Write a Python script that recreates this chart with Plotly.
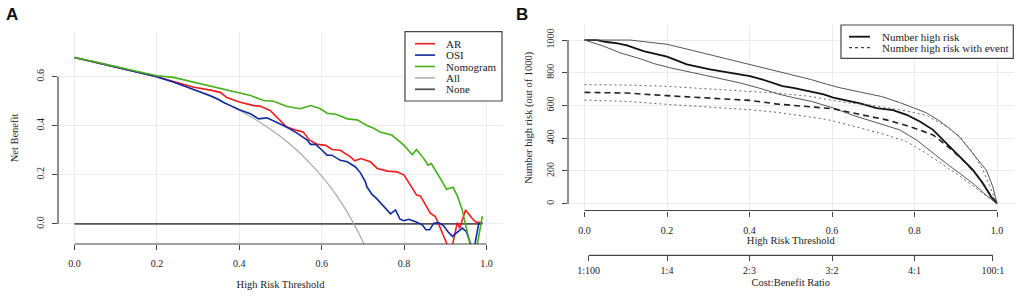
import plotly.graph_objects as go

W, H = 1021, 297

# ---------------- Panel A: decision curves ----------------
ar_t = [0, 0.05, 0.1, 0.15, 0.2, 0.24, 0.29, 0.33, 0.354, 0.37, 0.40, 0.435, 0.45, 0.475, 0.49,
        0.515, 0.54, 0.555, 0.57, 0.59, 0.61, 0.625, 0.645, 0.67, 0.68, 0.695, 0.718, 0.735, 0.76,
        0.783, 0.80, 0.815, 0.83, 0.84, 0.856, 0.864, 0.876, 0.892, 0.906, 0.917, 0.929, 0.935,
        0.949, 0.965, 0.973, 0.99]
ar_nb = [0.678, 0.659, 0.639, 0.620, 0.600, 0.580, 0.557, 0.545, 0.536, 0.515, 0.497, 0.482, 0.480,
         0.462, 0.437, 0.395, 0.381, 0.375, 0.342, 0.324, 0.320, 0.303, 0.300, 0.273, 0.257, 0.266,
         0.253, 0.226, 0.215, 0.212, 0.199, 0.158, 0.118, 0.113, 0.064, 0.043, 0.030, -0.031, -0.09,
         -0.09, 0.005, -0.017, 0.057, 0.023, 0.009, 0.003]

osi_t = [0, 0.05, 0.1, 0.15, 0.2, 0.24, 0.29, 0.33, 0.35, 0.362, 0.38, 0.40, 0.427, 0.447, 0.467,
         0.492, 0.516, 0.54, 0.565, 0.573, 0.585, 0.601, 0.613, 0.625, 0.645, 0.662, 0.682, 0.694,
         0.706, 0.71, 0.722, 0.733, 0.751, 0.767, 0.779, 0.79, 0.80, 0.811, 0.828, 0.844, 0.853,
         0.862, 0.872, 0.884, 0.896, 0.906, 0.917, 0.929, 0.941, 0.951, 0.963, 0.971, 0.981, 0.99]
osi_nb = [0.678, 0.659, 0.639, 0.620, 0.600, 0.578, 0.548, 0.522, 0.507, 0.495, 0.481, 0.465, 0.449,
          0.428, 0.432, 0.411, 0.394, 0.370, 0.341, 0.324, 0.324, 0.300, 0.280, 0.280, 0.259, 0.253,
          0.232, 0.208, 0.171, 0.150, 0.120, 0.104, 0.070, 0.041, 0.057, 0.019, 0.013, 0.019, 0.009,
          -0.004, -0.024, -0.024, 0.003, 0.005, -0.008, -0.031, -0.051, -0.035, -0.017, -0.031,
          -0.09, -0.09, 0.0, 0.003]

nomo_t = [0, 0.05, 0.1, 0.15, 0.2, 0.24, 0.29, 0.33, 0.354, 0.40, 0.427, 0.459, 0.483, 0.516, 0.548,
          0.573, 0.597, 0.613, 0.637, 0.662, 0.686, 0.71, 0.726, 0.742, 0.771, 0.80, 0.82, 0.83,
          0.848, 0.858, 0.866, 0.888, 0.903, 0.919, 0.93, 0.941, 0.951, 0.961, 0.977, 0.99]
nomo_nb = [0.678, 0.660, 0.640, 0.622, 0.604, 0.597, 0.577, 0.562, 0.550, 0.533, 0.523, 0.503, 0.500,
           0.478, 0.469, 0.482, 0.469, 0.451, 0.446, 0.428, 0.424, 0.401, 0.390, 0.374, 0.361, 0.320,
           0.282, 0.303, 0.266, 0.239, 0.246, 0.185, 0.141, 0.149, 0.111, 0.057, -0.011, -0.09, -0.09,
           0.032]

all_t = [0, 0.05, 0.1, 0.15, 0.2, 0.25, 0.3, 0.35, 0.4, 0.45, 0.5, 0.54, 0.58, 0.6, 0.62, 0.64,
         0.66, 0.68, 0.70, 0.72]
all_nb = [0.678, 0.661, 0.642, 0.621, 0.598, 0.571, 0.540, 0.505, 0.463, 0.414, 0.356, 0.300, 0.232,
          0.195, 0.153, 0.106, 0.053, -0.006, -0.073, -0.150]

none_t = [0, 0.99]
none_nb = [0, 0]

a_xticks = [0, 0.2, 0.4, 0.6, 0.8, 1.0]
a_xlabels = ["0.0", "0.2", "0.4", "0.6", "0.8", "1.0"]
a_yticks = [0, 0.2, 0.4, 0.6]
a_ylabels = ["0.0", "0.2", "0.4", "0.6"]

# ---------------- Panel B: clinical impact curve ----------------
hr_t = [0, 0.03, 0.054, 0.08, 0.103, 0.143, 0.2, 0.22, 0.248, 0.304, 0.361, 0.401, 0.43, 0.458,
        0.48, 0.506, 0.55, 0.58, 0.603, 0.64, 0.668, 0.708, 0.748, 0.781, 0.813, 0.845, 0.877,
        0.91, 0.942, 0.966, 0.986, 1.0]
hr_n = [1000, 1000, 988, 980, 967, 932, 898, 880, 851, 820, 795, 779, 760, 735, 718, 707, 686, 668,
        648, 628, 613, 584, 572, 543, 502, 451, 369, 287, 205, 123, 41, 0]

hr_hi_t = [0, 0.111, 0.151, 0.2, 0.264, 0.321, 0.377, 0.425, 0.47, 0.506, 0.55, 0.587, 0.62, 0.668,
           0.72, 0.764, 0.80, 0.829, 0.861, 0.885, 0.91, 0.942, 0.974, 0.99, 1.0]
hr_hi_n = [1000, 1000, 988, 974, 935, 900, 868, 836, 808, 785, 758, 730, 708, 682, 655, 618, 585,
           555, 505, 460, 405, 307, 205, 102, 0]

hr_lo_t = [0, 0.046, 0.086, 0.135, 0.167, 0.208, 0.264, 0.321, 0.377, 0.425, 0.47, 0.506, 0.55,
           0.603, 0.651, 0.708, 0.764, 0.805, 0.845, 0.877, 0.91, 0.942, 0.974, 1.0]
hr_lo_n = [1000, 963, 922, 886, 857, 830, 800, 769, 738, 705, 670, 648, 625, 585, 540, 495, 451,
           389, 307, 246, 184, 123, 51, 0]

ev_t = [0, 0.103, 0.2, 0.304, 0.401, 0.47, 0.506, 0.603, 0.668, 0.732, 0.789, 0.845, 0.885, 0.926,
        0.958, 0.982, 1.0]
ev_n = [680, 676, 660, 646, 631, 608, 600, 580, 545, 512, 471, 420, 340, 246, 154, 61, 0]

ev_hi_t = [0, 0.1, 0.2, 0.304, 0.401, 0.47, 0.546, 0.627, 0.692, 0.764, 0.829, 0.877, 0.91, 0.942,
           0.966, 0.986, 1.0]
ev_hi_n = [727, 725, 717, 701, 688, 675, 656, 620, 603, 574, 540, 471, 410, 310, 205, 82, 0]

ev_lo_t = [0, 0.1, 0.2, 0.304, 0.401, 0.47, 0.506, 0.587, 0.668, 0.732, 0.781, 0.829, 0.877, 0.918,
           0.95, 0.982, 1.0]
ev_lo_n = [633, 625, 607, 591, 574, 557, 545, 515, 463, 420, 379, 307, 225, 154, 92, 31, 0]

b_xticks = [0, 0.2, 0.4, 0.6, 0.8, 1.0]
b_xlabels = ["0.0", "0.2", "0.4", "0.6", "0.8", "1.0"]
b_yticks = [0, 200, 400, 600, 800, 1000]
b_ylabels = ["0", "200", "400", "600", "800", "1000"]
cb_pos = [0.01, 0.2, 0.4, 0.6, 0.8, 0.99]
cb_labels = ["1:100", "1:4", "2:3", "3:2", "4:1", "100:1"]

# ---------------- styling ----------------
SERIF = "Liberation Serif, Times New Roman, DejaVu Serif, serif"
TXT = "#222222"
AXC = "#444444"
GRID = "#ebebeb"

series_A = [
    ("AR", ar_t, ar_nb, "#ee1c1c", 1.6),
    ("OSI", osi_t, osi_nb, "#0f2a9e", 1.6),
    ("Nomogram", nomo_t, nomo_nb, "#45b01c", 1.6),
    ("All", all_t, all_nb, "#aaaaaa", 1.2),
    ("None", none_t, none_nb, "#555555", 1.8),
]

fig = go.Figure()

# draw None and All first so model curves sit above them
for name, xs, ys, col, lw in [series_A[4], series_A[3], series_A[0], series_A[1], series_A[2]]:
    fig.add_trace(go.Scatter(x=xs, y=ys, mode="lines", name=name, showlegend=False,
                             line=dict(color=col, width=lw,
                                       shape="spline" if name == "All" else "linear"),
                             xaxis="x", yaxis="y"))

series_B = [
    ("Number high risk", hr_t, hr_n, "#111111", 1.8, "solid"),
    ("upper", hr_hi_t, hr_hi_n, "#555555", 1.0, "solid"),
    ("lower", hr_lo_t, hr_lo_n, "#555555", 1.0, "solid"),
    ("Number high risk with event", ev_t, ev_n, "#222222", 1.6, "6px,4px"),
    ("upper ev", ev_hi_t, ev_hi_n, "#666666", 1.0, "2px,3px"),
    ("lower ev", ev_lo_t, ev_lo_n, "#666666", 1.0, "2px,3px"),
]
for name, xs, ys, col, lw, dash in series_B:
    fig.add_trace(go.Scatter(x=xs, y=ys, mode="lines", name=name, showlegend=False,
                             line=dict(color=col, width=lw, dash=dash),
                             xaxis="x2", yaxis="y2"))

# carrier for the cost:benefit axis
fig.add_trace(go.Scatter(x=cb_pos, y=[0] * len(cb_pos), mode="markers", showlegend=False,
                         marker=dict(opacity=0), hoverinfo="skip", xaxis="x3", yaxis="y2"))

tickfont = dict(family=SERIF, size=10, color=TXT)
titlefont = dict(family=SERIF, size=10.5, color=TXT)

common_x = dict(range=[-0.04, 1.04], showline=False, zeroline=False, showgrid=True, gridcolor=GRID,
                gridwidth=1, ticks="outside", ticklen=5, tickcolor=AXC, tickwidth=1,
                tickfont=tickfont, title_font=titlefont, automargin=False)
common_y = dict(showline=False, zeroline=False, showgrid=True, gridcolor=GRID, gridwidth=1,
                ticks="outside", ticklen=5, tickcolor=AXC, tickwidth=1, tickangle=-90,
                tickfont=tickfont, title_font=titlefont, automargin=False)

fig.update_layout(
    width=W, height=H, margin=dict(l=0, r=0, t=0, b=0, pad=0, autoexpand=False),
    paper_bgcolor="white", plot_bgcolor="white",
    xaxis=dict(common_x, domain=[58 / W, 503 / W], anchor="y",
               tickmode="array", tickvals=a_xticks, ticktext=a_xlabels,
               title=dict(text="High Risk Threshold", standoff=12), ticklabelstandoff=5),
    yaxis=dict(common_y, domain=[1 - 244 / H, 1 - 32 / H], anchor="x", range=[-0.082, 0.782],
               tickmode="array", tickvals=a_yticks, ticktext=a_ylabels,
               title=dict(text="Net Benefit", standoff=14), ticklabelstandoff=4),
    xaxis2=dict(common_x, domain=[568 / W, 1013.5 / W], anchor="y2",
                tickmode="array", tickvals=b_xticks, ticktext=b_xlabels,
                title=dict(text="High Risk Threshold", standoff=2), ticklabelstandoff=5),
    yaxis2=dict(common_y, domain=[1 - 210.5 / H, 1 - 25 / H], anchor="x2", range=[-42, 1092],
                tickmode="array", tickvals=b_yticks, ticktext=b_ylabels,
                title=dict(text="Number high risk (out of 1000)", standoff=10), ticklabelstandoff=4),
    xaxis3=dict(range=[-0.04, 1.04], overlaying="x2", anchor="free", position=1 - 255.3 / H,
                side="bottom", showgrid=False, zeroline=False, showline=False, automargin=False,
                ticks="outside", ticklen=5, tickcolor=AXC, tickwidth=1, tickfont=tickfont,
                tickmode="array", tickvals=cb_pos, ticktext=cb_labels,
                title=dict(text="Cost:Benefit Ratio", font=titlefont, standoff=3),
                ticklabelstandoff=1),
)

shapes = []
# R-style axis lines spanning first..last tick
shapes.append(dict(type="line", xref="x", yref="y domain", x0=a_xticks[0], x1=a_xticks[-1],
                   y0=0, y1=0, line=dict(color=AXC, width=1.2)))
shapes.append(dict(type="line", xref="x domain", yref="y", x0=0, x1=0, y0=a_yticks[0],
                   y1=a_yticks[-1], line=dict(color=AXC, width=1.2)))
shapes.append(dict(type="line", xref="x2", yref="y2 domain", x0=b_xticks[0], x1=b_xticks[-1],
                   y0=0, y1=0, line=dict(color=AXC, width=1.2)))
shapes.append(dict(type="line", xref="x2 domain", yref="y2", x0=0, x1=0, y0=b_yticks[0],
                   y1=b_yticks[-1], line=dict(color=AXC, width=1.2)))
shapes.append(dict(type="line", xref="x2", yref="paper", x0=cb_pos[0], x1=cb_pos[-1],
                   y0=1 - 255.3 / H, y1=1 - 255.3 / H, line=dict(color=AXC, width=1.2)))

annotations = []


def px(x):
    return x / W


def py(y):
    return 1 - y / H


# legend A (manual, R-style)
shapes.append(dict(type="rect", xref="paper", yref="paper", x0=px(405), x1=px(502),
                   y0=py(101), y1=py(31.7), line=dict(color=AXC, width=1.2), fillcolor="white"))
for i, (name, _, _, col, lw) in enumerate(series_A):
    yy = 43.7 + 11.4 * i
    shapes.append(dict(type="line", xref="paper", yref="paper", x0=px(415), x1=px(435),
                       y0=py(yy), y1=py(yy), line=dict(color=col, width=max(lw, 1.5))))
    annotations.append(dict(text=name, xref="paper", yref="paper", x=px(444), y=py(yy),
                            xanchor="left", yanchor="middle", showarrow=False,
                            font=dict(family=SERIF, size=11, color=TXT)))

# legend B
shapes.append(dict(type="rect", xref="paper", yref="paper", x0=px(841), x1=px(1013.3),
                   y0=py(58.3), y1=py(25), line=dict(color=AXC, width=1.2), fillcolor="white"))
legB = [("Number high risk", "solid", 1.8), ("Number high risk with event", "3px,3px", 1.0)]
for i, (name, dash, lw) in enumerate(legB):
    yy = 36.7 + 11 * i
    shapes.append(dict(type="line", xref="paper", yref="paper", x0=px(849), x1=px(870),
                       y0=py(yy), y1=py(yy), line=dict(color="#111111", width=lw, dash=dash)))
    annotations.append(dict(text=name, xref="paper", yref="paper", x=px(880), y=py(yy),
                            xanchor="left", yanchor="middle", showarrow=False,
                            font=dict(family=SERIF, size=11, color=TXT)))

# panel letters
for letter, xx in [("A", 12), ("B", 521.7)]:
    annotations.append(dict(text=f"<b>{letter}</b>", xref="paper", yref="paper", x=px(xx), y=py(14),
                            xanchor="center", yanchor="middle", showarrow=False,
                            font=dict(family="Liberation Sans, Arial, sans-serif", size=17,
                                      color="#111111")))

fig.update_layout(shapes=shapes, annotations=annotations)
fig.write_html("out.html", config={"displayModeBar": False},
               post_script="document.body.style.margin='0';document.body.style.padding='0';")
